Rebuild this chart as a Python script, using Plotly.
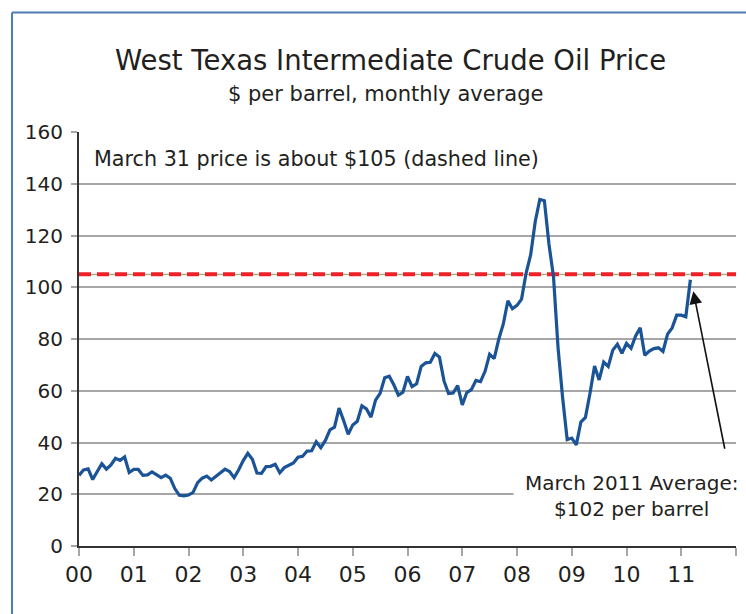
import plotly.graph_objects as go

# Monthly average WTI price, Jan 2000 - Mar 2011 ($/barrel)
prices_2000 = [27.3, 29.4, 29.8, 25.7, 28.8, 31.8, 29.7, 31.3, 33.9, 33.1, 34.4, 28.4]
prices_2001 = [29.6, 29.6, 27.3, 27.5, 28.6, 27.6, 26.4, 27.4, 26.2, 22.2, 19.6, 19.4]
prices_2002 = [19.7, 20.7, 24.5, 26.2, 27.0, 25.5, 27.0, 28.4, 29.7, 28.8, 26.4, 29.5]
prices_2003 = [33.0, 35.8, 33.5, 28.2, 28.1, 30.7, 30.8, 31.6, 28.3, 30.3, 31.1, 32.1]
prices_2004 = [34.3, 34.7, 36.7, 36.8, 40.3, 38.0, 40.8, 44.9, 45.9, 53.3, 48.5, 43.2]
prices_2005 = [46.8, 48.2, 54.2, 53.0, 49.8, 56.4, 59.0, 65.0, 65.6, 62.3, 58.3, 59.4]
prices_2006 = [65.5, 61.6, 62.7, 69.4, 70.8, 71.0, 74.4, 73.0, 63.8, 58.9, 59.1, 62.0]
prices_2007 = [54.5, 59.3, 60.4, 64.0, 63.5, 67.5, 74.1, 72.4, 79.9, 85.8, 94.8, 91.7]
prices_2008 = [93.0, 95.4, 105.5, 112.6, 125.4, 133.9, 133.4, 116.7, 104.1, 76.6, 57.3, 41.1]
prices_2009 = [41.7, 39.1, 47.9, 49.7, 59.0, 69.6, 64.2, 71.1, 69.4, 75.7, 78.0, 74.5]
prices_2010 = [78.3, 76.4, 81.2, 84.3, 73.7, 75.3, 76.3, 76.6, 75.2, 81.9, 84.3, 89.2]
prices_2011 = [89.2, 88.6, 102.9]

years = [2000, 2001, 2002, 2003, 2004, 2005, 2006, 2007, 2008, 2009, 2010, 2011]
tick_labels = ["00", "01", "02", "03", "04", "05", "06", "07", "08", "09", "10", "11", ""]
march31_price = 105
march_avg_label = "March 2011 Average:<br>$102 per barrel"

all_years = [prices_2000, prices_2001, prices_2002, prices_2003, prices_2004, prices_2005,
             prices_2006, prices_2007, prices_2008, prices_2009, prices_2010, prices_2011]
x_vals, y_vals = [], []
for yr, vals in zip(years, all_years):
    for m, v in enumerate(vals):
        x_vals.append(yr + m / 12)
        y_vals.append(v)

FONT = "DejaVu Sans"
TXT = "#231f20"
W, H = 746, 614
ML, MR, MT, MB = 79, 10, 132, 68
pw, ph = W - ML - MR, H - MT - MB


def px(x):
    return (x - ML) / pw


def py(y):
    return (H - y - MB) / ph


fig = go.Figure()
fig.add_trace(go.Scatter(x=[2000, 2012], y=[march31_price, march31_price], mode="lines",
                         line=dict(color="#a39461", width=1), hoverinfo="skip", showlegend=False))
fig.add_trace(go.Scatter(x=[2000, 2012], y=[march31_price, march31_price], mode="lines",
                         line=dict(color="#ee2128", width=4, dash="12px,6px"),
                         hoverinfo="skip", showlegend=False))
fig.add_trace(go.Scatter(x=x_vals, y=y_vals, mode="lines",
                         line=dict(color="#1a5496", width=3.2), showlegend=False))

fig.update_layout(
    width=W, height=H,
    margin=dict(l=ML, r=MR, t=MT, b=MB),
    paper_bgcolor="white", plot_bgcolor="white",
    font=dict(family=FONT, color=TXT),
    xaxis=dict(range=[2000, 2012], tickvals=years + [2012], ticktext=tick_labels,
               showgrid=False, showline=True, linecolor="#333333", linewidth=2,
               ticks="outside", ticklen=8, tickcolor="#a6a6a6", tickwidth=2,
               tickfont=dict(size=22, family=FONT, color=TXT), zeroline=False),
    yaxis=dict(range=[0, 160], dtick=20, showgrid=True, gridcolor="#a6a6a6", gridwidth=1.5,
               showline=True, linecolor="#333333", linewidth=2,
               ticks="outside", ticklen=6, tickcolor="#a6a6a6", tickwidth=1.5,
               ticklabelstandoff=4,
               tickfont=dict(size=20, family=FONT, color=TXT), zeroline=False),
    annotations=[
        dict(text="West Texas Intermediate Crude Oil Price", x=px(390), y=py(60),
             xref="paper", yref="paper", xanchor="center", yanchor="middle",
             showarrow=False, font=dict(size=27.5)),
        dict(text="$ per barrel, monthly average", x=px(385), y=py(94),
             xref="paper", yref="paper", xanchor="center", yanchor="middle",
             showarrow=False, font=dict(size=21)),
        dict(text="March 31 price is about $105 (dashed line)", x=px(92), y=py(159),
             xref="paper", yref="paper", xanchor="left", yanchor="middle",
             showarrow=False, font=dict(size=20.7)),
        dict(text=march_avg_label, x=2010.09, y=(546 - 495.5) / 2.5875, xref="x", yref="y",
             xanchor="center", yanchor="middle",
             showarrow=False, font=dict(size=20), bgcolor="white", borderpad=11, align="center"),
        dict(text="", x=2011.22, y=98.5, ax=2011.8, ay=37, xref="x", yref="y",
             axref="x", ayref="y", showarrow=True, arrowhead=2, arrowsize=1.6,
             arrowwidth=1.6, arrowcolor="#111111"),
    ],
)

# frame around the figure (top and left edges visible)
fig.add_shape(type="line", xref="paper", yref="paper",
              x0=px(12), x1=px(746), y0=py(12.5), y1=py(12.5),
              line=dict(color="#4d7db5", width=2))
fig.add_shape(type="line", xref="paper", yref="paper",
              x0=px(12), x1=px(12), y0=py(12.5), y1=py(614),
              line=dict(color="#4d7db5", width=2))

fig.write_html("out.html", config={"displayModeBar": False},
               post_script="document.body.style.margin='0';document.body.style.overflow='hidden';")
